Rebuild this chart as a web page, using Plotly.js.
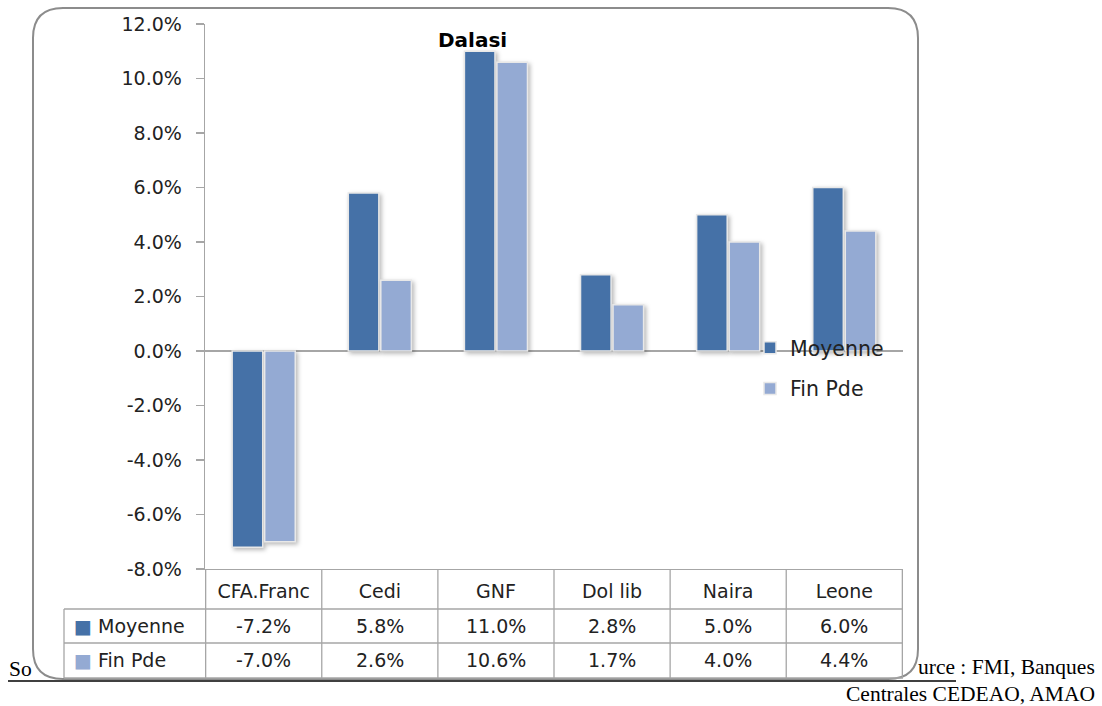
<!DOCTYPE html>
<html>
<head>
<meta charset="utf-8">
<script src="https://cdn.plot.ly/plotly-3.0.1.min.js"></script>
<style>
html,body{margin:0;padding:0;background:#fff;}
#chart{width:1102px;height:706px;}
#chart .barlayer .point path{filter:drop-shadow(2px 2px 2px rgba(0,0,0,0.28));}
</style>
</head>
<body>
<div id="chart"></div>
<script>
// ---- data ----
var categories = ["CFA.Franc", "Cedi", "GNF", "Dol lib", "Naira", "Leone"];
var moyenne = [-7.2, 5.8, 11.0, 2.8, 5.0, 6.0];
var finPde = [-7.0, 2.6, 10.6, 1.7, 4.0, 4.4];
var seriesNames = ["Moyenne", "Fin Pde"];
var yTicks = [-8, -6, -4, -2, 0, 2, 4, 6, 8, 10, 12];
var chartTitle = "Dalasi";
var sourceParts = ["So", "urce : FMI, Banques", "Centrales CEDEAO, AMAO"];

// ---- layout helpers (pixel -> paper) ----
var W = 1102, H = 706;
var M = {l: 205, r: 199, t: 24, b: 137};
var PW = W - M.l - M.r, PH = H - M.t - M.b;
function X(px) { return (px - M.l) / PW; }
function Y(py) { return (H - M.b - py) / PH; }

var colors = ["#4571A7", "#94AAD3"];
var fontMain = "DejaVu Sans, Verdana, sans-serif";
var fontSerif = "Liberation Serif, Times New Roman, serif";
var fs = 19;

var traces = [moyenne, finPde].map(function (vals, i) {
  return {
    type: "bar",
    name: seriesNames[i],
    legendgroup: "g" + i,
    x: categories,
    y: vals,
    marker: {color: colors[i], line: {color: "#e8e8e8", width: 1.5}},
    hoverinfo: "x+y"
  };
});

var shapes = [];
var annotations = [];
var grid = "#a6a6a6";

// table horizontal lines
[609, 643, 678].forEach(function (py) {
  shapes.push({type: "line", xref: "paper", yref: "paper", x0: X(64), x1: 1, y0: Y(py), y1: Y(py), line: {color: grid, width: 1.3}});
});
// table vertical lines at category boundaries
for (var i = 0; i <= categories.length; i++) {
  shapes.push({type: "line", xref: "x", yref: "paper", x0: i - 0.5, x1: i - 0.5, y0: Y(678), y1: 0, line: {color: grid, width: 1.3}});
}
// left edge of legend column
shapes.push({type: "line", xref: "paper", yref: "paper", x0: X(64), x1: X(64), y0: Y(678), y1: Y(609), line: {color: grid, width: 1.3}});

// rounded frame
(function () {
  var l = 33, r = 918, t = 8, b = 679, rad = 30;
  var p = "M " + X(l + rad) + "," + Y(t) +
    " L " + X(r - rad) + "," + Y(t) +
    " Q " + X(r) + "," + Y(t) + " " + X(r) + "," + Y(t + rad) +
    " L " + X(r) + "," + Y(b - rad) +
    " Q " + X(r) + "," + Y(b) + " " + X(r - rad) + "," + Y(b) +
    " L " + X(l + rad) + "," + Y(b) +
    " Q " + X(l) + "," + Y(b) + " " + X(l) + "," + Y(b - rad) +
    " L " + X(l) + "," + Y(t + rad) +
    " Q " + X(l) + "," + Y(t) + " " + X(l + rad) + "," + Y(t) + " Z";
  shapes.push({type: "path", xref: "paper", yref: "paper", path: p, line: {color: "#8c8c8c", width: 2}, layer: "below"});
})();

// source underline
shapes.push({type: "line", xref: "paper", yref: "paper", x0: X(8), x1: X(956), y0: Y(681), y1: Y(681), line: {color: "#000", width: 1.5}});

// table values
var rowY = [626, 660];
[moyenne, finPde].forEach(function (vals, s) {
  annotations.push({
    xref: "paper", yref: "paper", x: X(72), y: Y(rowY[s]), xanchor: "left", yanchor: "middle", showarrow: false,
    text: '<span style="color:' + colors[s] + '">■</span> ' + seriesNames[s],
    font: {family: fontMain, size: fs, color: "#222"}
  });
  vals.forEach(function (v, k) {
    annotations.push({
      xref: "x", yref: "paper", x: categories[k], y: Y(rowY[s]), xanchor: "center", yanchor: "middle", showarrow: false,
      text: v.toFixed(1) + "%", font: {family: fontMain, size: fs, color: "#222"}
    });
  });
});

// title
annotations.push({xref: "paper", yref: "paper", x: X(472), y: Y(40), xanchor: "center", yanchor: "middle", showarrow: false,
  text: "<b>" + chartTitle + "</b>", font: {family: fontMain, size: 20, color: "#000"}});

// source
annotations.push({xref: "paper", yref: "paper", x: X(7), y: Y(669), xanchor: "left", yanchor: "middle", showarrow: false,
  text: sourceParts[0], font: {family: fontSerif, size: 21.5, color: "#000"}});
annotations.push({xref: "paper", yref: "paper", x: X(916), y: Y(667), xanchor: "left", yanchor: "middle", showarrow: false,
  text: sourceParts[1], font: {family: fontSerif, size: 21.5, color: "#000"}});
annotations.push({xref: "paper", yref: "paper", x: X(1097), y: Y(694), xanchor: "right", yanchor: "middle", showarrow: false,
  text: sourceParts[2], font: {family: fontSerif, size: 21.5, color: "#000"}});

var layout = {
  width: W, height: H,
  margin: M,
  paper_bgcolor: "#fff", plot_bgcolor: "#fff",
  barmode: "group", bargap: 0.44, bargroupgap: 0.06,
  showlegend: true,
  legend: {x: X(750), y: Y(328), xanchor: "left", yanchor: "top", bgcolor: "rgba(0,0,0,0)",
    traceorder: "grouped", tracegroupgap: 11, font: {family: fontMain, size: 20.5, color: "#222"}},
  xaxis: {type: "category", showline: true, linecolor: grid, linewidth: 1.3, ticks: "", showgrid: false,
    zeroline: false, tickfont: {family: fontMain, size: fs, color: "#222"}, ticklabelstandoff: 5, fixedrange: true},
  yaxis: {range: [-8, 12], tickmode: "array", tickvals: yTicks,
    ticktext: yTicks.map(function (t) { return t.toFixed(1) + "%"; }), showgrid: false,
    showline: true, linecolor: grid, linewidth: 1.3, ticks: "outside", ticklen: 8, tickcolor: grid, tickwidth: 1.3,
    zeroline: true, zerolinecolor: grid, zerolinewidth: 1.5,
    tickfont: {family: fontMain, size: fs, color: "#222"}, ticklabelstandoff: 10, fixedrange: true},
  shapes: shapes,
  annotations: annotations
};

Plotly.newPlot("chart", traces, layout, {displayModeBar: false, staticPlot: true});
</script>
</body>
</html>
